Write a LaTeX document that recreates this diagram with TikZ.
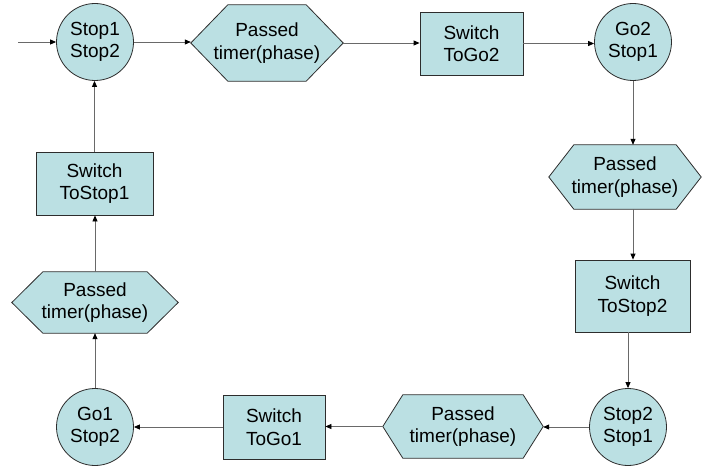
\documentclass[tikz,border=0pt]{standalone}
\usepackage{fontspec}
\setmainfont{Liberation Sans}
\usetikzlibrary{arrows.meta,backgrounds}
\definecolor{boxfill}{RGB}{187,224,227}
\definecolor{edgecol}{RGB}{45,45,45}
\definecolor{linecol}{RGB}{105,105,105}
\tikzset{
 lbl/.style={font=\fontsize{19}{22.5}\selectfont, align=center, text=black},
 statenode/.style={lbl, circle, draw=edgecol, line width=0.8pt, fill=boxfill, minimum size=77pt, inner sep=0pt},
 actbox/.style={lbl, rectangle, draw=edgecol, line width=0.8pt, fill=boxfill, inner sep=0pt},
 hexnode/.style={lbl, rectangle, inner sep=0pt},
 hexshape/.style={draw=edgecol, line width=0.8pt, fill=boxfill, line join=miter},
 flow/.style={draw=linecol, line width=0.8pt, -{Triangle[length=6pt,width=5pt,color=black]}},
}
\newcommand\drawhex[2]{\draw[hexshape] (#1.west) -- ([xshift=#2pt]#1.north west) -- ([xshift=-#2pt]#1.north east) -- (#1.east) -- ([xshift=-#2pt]#1.south east) -- ([xshift=#2pt]#1.south west) -- cycle;}
\begin{document}
\begin{tikzpicture}[x=1pt,y=-1pt]
\useasboundingbox (0,0) rectangle (704,468);
% top row
\node[statenode] (C1) at (95,42) {Stop1\\Stop2};
\node[hexnode, minimum width=152pt, minimum height=76pt] (H1) at (267,43) {Passed\\timer(phase)};
\node[actbox, minimum width=103pt, minimum height=63pt] (B1) at (471.5,43.5) {Switch\\ToGo2};
\node[statenode] (C2) at (633,42) {Go2\\Stop1};
% right column
\node[hexnode, minimum width=152pt, minimum height=64pt] (H2) at (625,177) {Passed\\timer(phase)};
\node[actbox, minimum width=115pt, minimum height=72pt] (B2) at (632.5,296) {Switch\\ToStop2};
% bottom row
\node[statenode] (C3) at (628,427) {Stop2\\Stop1};
\node[hexnode, minimum width=160pt, minimum height=63pt] (H3) at (463,426.5) {Passed\\timer(phase)};
\node[actbox, minimum width=102pt, minimum height=64pt] (B3) at (274,427) {Switch\\ToGo1};
\node[statenode] (C4) at (95,427) {Go1\\Stop2};
% left column
\node[hexnode, minimum width=166pt, minimum height=61pt] (H4) at (95,302.5) {Passed\\timer(phase)};
\node[actbox, minimum width=117pt, minimum height=63pt] (B4) at (94.5,183.5) {Switch\\ToStop1};
\coordinate (start) at (18,42);
\begin{scope}[on background layer]
\drawhex{H1}{37}
\drawhex{H2}{25}
\drawhex{H3}{20}
\drawhex{H4}{31}
\end{scope}
% connectors
\draw[flow] (start) -- (C1.west);
\draw[flow] (C1.east) -- (C1.east -| H1.west);
\draw[flow] (H1.east) -- (H1.east -| B1.west);
\draw[flow] (B1.east) -- (B1.east -| C2.west);
\draw[flow] (C2.south) -- (C2.south |- H2.north);
\draw[flow] (H2.south -| C2) -- (B2.north -| C2);
\draw[flow] (B2.south -| C3) -- (C3.north);
\draw[flow] (C3.west) -- (C3.west -| H3.east);
\draw[flow] (H3.west) -- (H3.west -| B3.east);
\draw[flow] (B3.west) -- (B3.west -| C4.east);
\draw[flow] (C4.north) -- (C4.north |- H4.south);
\draw[flow] (H4.north) -- (H4.north |- B4.south);
\draw[flow] (B4.north) -- (B4.north |- C1.south);
\end{tikzpicture}
\end{document}
